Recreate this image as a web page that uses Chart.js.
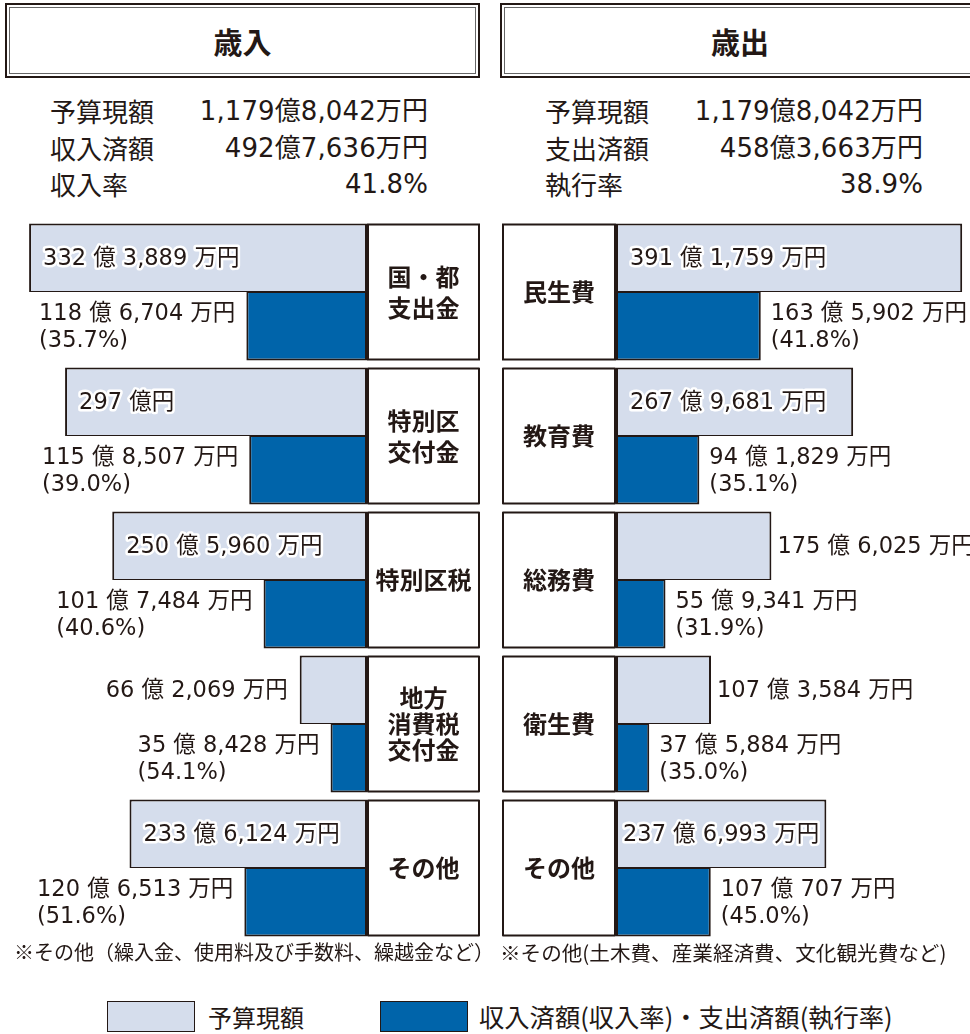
<!DOCTYPE html>
<html lang="ja">
<head>
<meta charset="utf-8">
<script src="https://cdn.jsdelivr.net/npm/chart.js@4.4.1/dist/chart.umd.min.js"></script>
<style>
  body { margin:0; width:970px; height:1034px; overflow:hidden; background:#fff; position:relative;
         font-family:"Noto Sans CJK JP", sans-serif; color:#231815; }
  .title { position:absolute; top:3px; height:75px; border:2.5px solid #231815; box-sizing:border-box; padding:2px; }
  .title div { border:1.5px solid #666; height:100%; box-sizing:border-box; display:flex;
               align-items:center; justify-content:center; font-size:29px; font-weight:bold; }
  .sum { position:absolute; top:93px; width:378px; font-size:26px; line-height:36.5px; }
  .sum div { display:flex; justify-content:space-between; }
  .sum span + span { font-family:"DejaVu Sans", "Noto Sans CJK JP", sans-serif; letter-spacing:0.1px; }
  .note { position:absolute; top:938px; line-height:28px; white-space:nowrap; }
  .lgbox { position:absolute; top:1001px; width:88px; height:31px; box-sizing:border-box; border:1.5px solid #231815; }
  .lgtxt { position:absolute; top:1001px; line-height:31px; font-size:24px; white-space:nowrap; }
  canvas { position:absolute; top:210px; }
</style>
</head>
<body>
<div class="title" style="left:5px;width:475px"><div>歳入</div></div>
<div class="title" style="left:500px;width:480px"><div>歳出</div></div>
<div class="sum" id="sumRev" style="left:50px"></div>
<div class="sum" id="sumExp" style="left:545px"></div>

<canvas id="revChart" width="485" height="735" style="left:0"></canvas>
<canvas id="expChart" width="485" height="735" style="left:485px"></canvas>

<div class="note" style="left:14px;font-size:20px">※その他（繰入金、使用料及び手数料、繰越金など）</div>
<div class="note" style="left:500px;font-size:20.6px">※その他(土木費、産業経済費、文化観光費など)</div>

<div class="lgbox" style="left:107px;background:#d5ddec"></div>
<div class="lgtxt" style="left:208px">予算現額</div>
<div class="lgbox" style="left:380px;background:#0064aa"></div>
<div class="lgtxt" style="left:479px;font-size:25.3px">収入済額(収入率)・支出済額(執行率)</div>

<script>
// values in 万円
const revCategories = [['国・都', '支出金'], ['特別区', '交付金'], ['特別区税'], ['地方', '消費税', '交付金'], ['その他']];
const revBudget = [3323889, 2970000, 2505960, 662069, 2336124];
const revActual = [1186704, 1158507, 1017484, 358428, 1206513];
const revRate = [35.7, 39.0, 40.6, 54.1, 51.6];

const expCategories = [['民生費'], ['教育費'], ['総務費'], ['衛生費'], ['その他']];
const expBudget = [3911759, 2679681, 1756025, 1073584, 2376993];
const expActual = [1635902, 941829, 559341, 375884, 1070707];
const expRate = [41.8, 35.1, 31.9, 35.0, 45.0];

const revSummary = [['予算現額', '1,179億8,042万円'], ['収入済額', '492億7,636万円'], ['収入率', '41.8%']];
const expSummary = [['予算現額', '1,179億8,042万円'], ['支出済額', '458億3,663万円'], ['執行率', '38.9%']];

const INK = '#231815';
const LIGHT = '#d5ddec';
const DARK = '#0064aa';
const JP = '"Noto Sans CJK JP", sans-serif';
const NUM = '"DejaVu Sans", "Noto Sans CJK JP", sans-serif';

function fillSummary(id, rows) {
  document.getElementById(id).innerHTML = rows
    .map(r => '<div><span>' + r[0] + '</span><span>' + r[1] + '</span></div>').join('');
}
fillSummary('sumRev', revSummary);
fillSummary('sumExp', expSummary);

function yen(v) {
  const oku = Math.floor(v / 10000), man = v % 10000;
  return man ? oku + ' 億 ' + man.toLocaleString('en-US') + ' 万円' : oku + ' 億円';
}

// draws the category boxes and the value labels next to the bars
const panelPlugin = {
  id: 'panel',
  afterDatasetsDraw(chart, args, opts) {
    const ctx = chart.ctx;
    const m0 = chart.getDatasetMeta(0), m1 = chart.getDatasetMeta(1);
    const rates = chart.data.datasets[1].rates;
    const left = opts.side === 'left';
    ctx.save();
    chart.data.labels.forEach((lab, i) => {
      const b = m0.data[i].getProps(['x', 'y', 'base', 'height'], true);
      const a = m1.data[i].getProps(['x', 'y', 'base', 'height'], true);
      const top = b.y - b.height / 2, bottom = a.y + a.height / 2;

      // category box
      const bx = left ? b.base : b.base - opts.boxW;
      ctx.fillStyle = '#fff';
      ctx.fillRect(bx, top, opts.boxW, bottom - top);
      ctx.strokeStyle = INK;
      ctx.lineWidth = 2;
      ctx.strokeRect(bx + 1, top + 1, opts.boxW - 2, bottom - top - 2);
      ctx.fillStyle = INK;
      ctx.font = 'bold 24px ' + JP;
      ctx.textAlign = 'center';
      ctx.textBaseline = 'middle';
      const lh = lab.length > 2 ? 26 : 31;
      lab.forEach((t, k) => {
        ctx.fillText(t, bx + opts.boxW / 2, (top + bottom) / 2 + (k - (lab.length - 1) / 2) * lh);
      });

      // budget label
      ctx.font = '22.5px ' + NUM;
      ctx.textAlign = 'left';
      const txt = yen(chart.data.datasets[0].data[i]);
      const w = ctx.measureText(txt).width;
      const l0 = Math.min(b.x, b.base), r0 = Math.max(b.x, b.base);
      const len = r0 - l0;
      if (len >= w + 8) {
        const x = l0 + Math.min(14, (len - w) / 2);
        ctx.lineJoin = 'round';
        ctx.strokeStyle = '#fff';
        ctx.lineWidth = 5;
        ctx.strokeText(txt, x, b.y + 1);
        ctx.fillStyle = INK;
        ctx.fillText(txt, x, b.y + 1);
      } else {
        ctx.fillStyle = INK;
        if (left) { ctx.textAlign = 'right'; ctx.fillText(txt, l0 - 12, b.y + 1); }
        else ctx.fillText(txt, r0 + 6, b.y + 1);
      }

      // actual label, two lines
      const lines = [yen(chart.data.datasets[1].data[i]), '(' + rates[i].toFixed(1) + '%)'];
      ctx.textAlign = 'left';
      ctx.fillStyle = INK;
      const bw = Math.max(...lines.map(t => ctx.measureText(t).width));
      const ax = left ? Math.min(a.x, a.base) - 11 - bw : Math.max(a.x, a.base) + 10;
      ctx.fillText(lines[0], ax, a.y - 12);
      ctx.fillText(lines[1], ax, a.y + 15);
    });
    ctx.restore();
  }
};

function makeChart(id, side, cats, budget, actual, rate, xMax) {
  return new Chart(document.getElementById(id), {
    type: 'bar',
    data: {
      labels: cats,
      datasets: [
        { label: '予算現額', data: budget, backgroundColor: LIGHT, borderColor: INK,
          borderWidth: { top: 2, left: 2, right: 2, bottom: 1 }, borderSkipped: false },
        { label: '済額', data: actual, rates: rate, backgroundColor: DARK, borderColor: INK,
          borderWidth: { top: 1, left: 2, right: 2, bottom: 2 }, borderSkipped: false }
      ]
    },
    options: {
      indexAxis: 'y',
      responsive: false,
      animation: false,
      layout: {
        padding: side === 'left'
          ? { left: 0, right: 118, top: 10, bottom: 5 }
          : { left: 131, right: 0, top: 10, bottom: 5 }
      },
      datasets: { bar: { barPercentage: 1, categoryPercentage: 137 / 144 } },
      scales: {
        x: { display: false, min: 0, max: xMax, reverse: side === 'left' },
        y: { display: false }
      },
      plugins: {
        legend: { display: false },
        tooltip: { enabled: false },
        panel: { side: side, boxW: side === 'left' ? 113 : 114 }
      }
    },
    plugins: [panelPlugin]
  });
}

makeChart('revChart', 'left', revCategories, revBudget, revActual, revRate, 3610000);
makeChart('expChart', 'right', expCategories, expBudget, expActual, expRate, 4000000);
</script>
</body>
</html>
